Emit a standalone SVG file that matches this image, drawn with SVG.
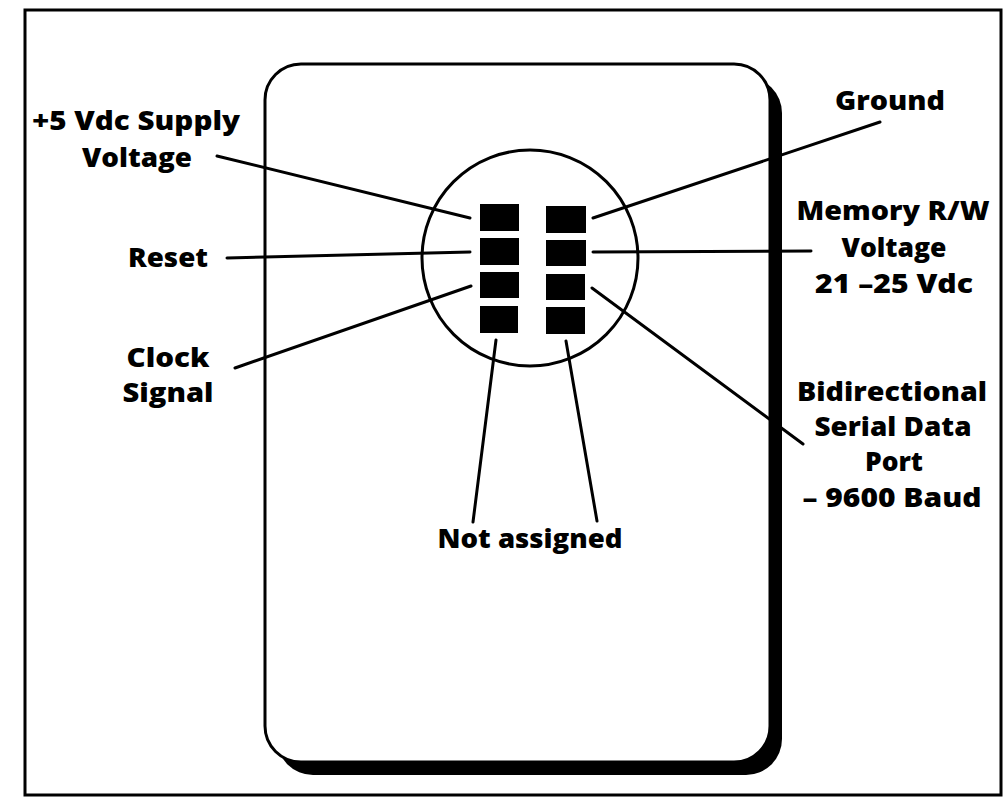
<svg xmlns="http://www.w3.org/2000/svg" width="1006" height="798" viewBox="0 0 1006 798">
<style>
.lbl{font-family:"Open Sans","Noto Sans","Liberation Sans",sans-serif;font-weight:800;font-size:27px;fill:#000;text-anchor:middle}
.ln{stroke:#000;stroke-width:3;fill:none;stroke-linecap:round}
.pad{fill:#000}
</style>
<rect width="1006" height="798" fill="#fff"/>
<rect id="frame" x="25" y="10" width="976" height="785" fill="none" stroke="#000" stroke-width="3"/>
<g id="card">
<rect x="277" y="77" width="505" height="698" rx="36" fill="#000"/>
<rect x="265" y="64" width="505" height="698" rx="36" fill="#fff" stroke="#000" stroke-width="3"/>
</g>
<g id="chip">
<circle cx="530" cy="258" r="108" fill="none" stroke="#000" stroke-width="3"/>
<rect class="pad" x="480" y="204" width="39" height="27"/>
<rect class="pad" x="480" y="238" width="39" height="27"/>
<rect class="pad" x="480" y="272" width="39" height="26"/>
<rect class="pad" x="480" y="306" width="38" height="27"/>
<rect class="pad" x="546" y="206" width="40" height="27"/>
<rect class="pad" x="546" y="240" width="40" height="26"/>
<rect class="pad" x="546" y="274" width="39" height="26"/>
<rect class="pad" x="546" y="307" width="39" height="27"/>
</g>
<g id="connectors">
<line class="ln" x1="217" y1="156" x2="470" y2="218"/>
<line class="ln" x1="227" y1="258" x2="470" y2="252"/>
<line class="ln" x1="235" y1="368" x2="471" y2="286"/>
<line class="ln" x1="593" y1="218" x2="880" y2="122"/>
<line class="ln" x1="593" y1="252" x2="811" y2="251"/>
<line class="ln" x1="592" y1="288" x2="803" y2="444"/>
<line class="ln" x1="496" y1="340" x2="473" y2="522"/>
<line class="ln" x1="566" y1="341" x2="597" y2="521"/>
</g>
<g id="label-supply"><text class="lbl" x="136" y="130" textLength="208" lengthAdjust="spacingAndGlyphs">+5 Vdc Supply</text><text class="lbl" x="137" y="167" textLength="110" lengthAdjust="spacingAndGlyphs">Voltage</text></g>
<g id="label-reset"><text class="lbl" x="168" y="267" textLength="80" lengthAdjust="spacingAndGlyphs">Reset</text></g>
<g id="label-clock"><text class="lbl" x="168" y="367" textLength="83" lengthAdjust="spacingAndGlyphs">Clock</text><text class="lbl" x="168" y="402" textLength="91" lengthAdjust="spacingAndGlyphs">Signal</text></g>
<g id="label-ground"><text class="lbl" x="890" y="110" textLength="110" lengthAdjust="spacingAndGlyphs">Ground</text></g>
<g id="label-memory"><text class="lbl" x="893" y="220" textLength="193" lengthAdjust="spacingAndGlyphs">Memory R/W</text><text class="lbl" x="894" y="257" textLength="105" lengthAdjust="spacingAndGlyphs">Voltage</text><text class="lbl" x="894" y="293" textLength="158" lengthAdjust="spacingAndGlyphs">21 –25 Vdc</text></g>
<g id="label-data"><text class="lbl" x="892" y="401" textLength="190" lengthAdjust="spacingAndGlyphs">Bidirectional</text><text class="lbl" x="893" y="436" textLength="157" lengthAdjust="spacingAndGlyphs">Serial Data</text><text class="lbl" x="894" y="471" textLength="58" lengthAdjust="spacingAndGlyphs">Port</text><text class="lbl" x="892" y="507" textLength="179" lengthAdjust="spacingAndGlyphs">– 9600 Baud</text></g>
<g id="label-na"><text class="lbl" x="530" y="548" textLength="185" lengthAdjust="spacingAndGlyphs">Not assigned</text></g>
</svg>
